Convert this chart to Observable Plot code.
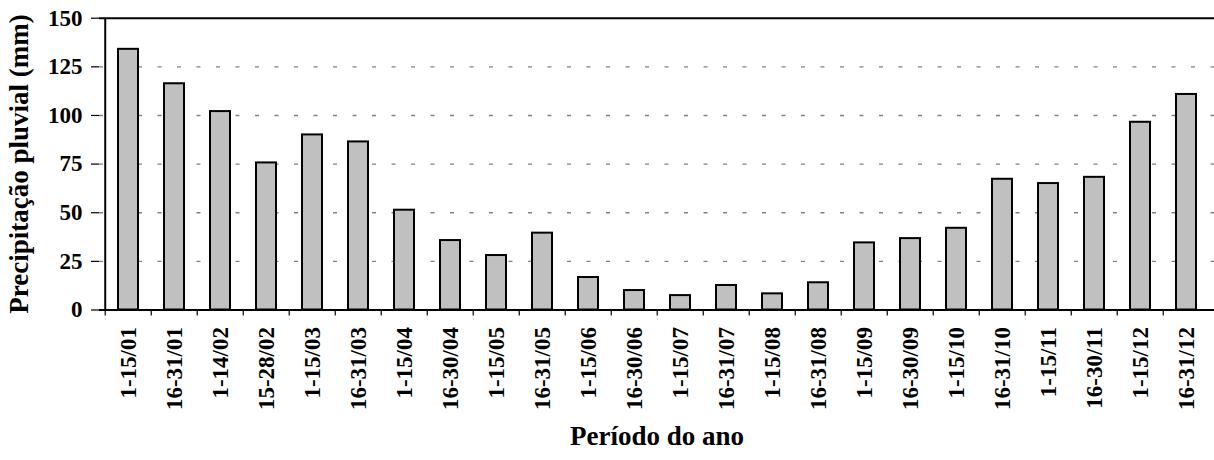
<!DOCTYPE html>
<html>
<head>
<meta charset="utf-8">
<script src="https://cdn.jsdelivr.net/npm/d3@7"></script>
<script src="https://cdn.jsdelivr.net/npm/@observablehq/plot@0.6"></script>
<style>
  html, body { margin: 0; padding: 0; background: white; }
</style>
</head>
<body>
<div id="chart"></div>
<script>
const categories = ["1-15/01","16-31/01","1-14/02","15-28/02","1-15/03","16-31/03","1-15/04","16-30/04","1-15/05","16-31/05","1-15/06","16-30/06","1-15/07","16-31/07","1-15/08","16-31/08","1-15/09","16-30/09","1-15/10","16-31/10","1-15/11","16-30/11","1-15/12","16-31/12"];
const values = [134, 116.3, 102, 75.6, 90, 86.4, 51.3, 35.7, 28, 39.5, 16.7, 10, 7.4, 12.6, 8.3, 14, 34.5, 36.7, 42, 67.2, 65, 68.2, 96.5, 110.8];
const yTicks = [0, 25, 50, 75, 100, 125, 150];
const gridTicks = [25, 50, 75, 100, 125];
const yTitle = "Precipitação pluvial (mm)";
const xTitle = "Período do ano";

const data = categories.map((c, i) => ({cat: c, val: values[i]}));

const FONT = "Liberation Serif";
const xRange = [99, 1215.5];
const step = (xRange[1] - xRange[0]) / categories.length;

const chart = Plot.plot({
  width: 1214,
  height: 460,
  marginLeft: 99,
  marginRight: 0,
  marginTop: 17.7,
  marginBottom: 150.5,
  style: "background: white; color: black; overflow: visible; font-family: 'Liberation Serif', serif; font-weight: bold;",
  x: {domain: categories, range: xRange, paddingInner: 0.57, paddingOuter: 0.285},
  y: {domain: [0, 150], range: [309.5, 17.7]},
  marks: [
    Plot.ruleY(gridTicks, {stroke: "#808080", strokeWidth: 1.4, strokeDasharray: "4,15.5"}),
    Plot.barY(data, {x: "cat", y: "val", fill: "#c0c0c0", stroke: "black", strokeWidth: 2}),
    Plot.ruleX(categories, {x: d => d, y1: 0, y2: 0, insetBottom: -6, dx: -step / 2, stroke: "black", strokeWidth: 1.2}),
    Plot.ruleX([categories[0]], {x: d => d, y1: 0, y2: 150, dx: -step / 2, stroke: "black", strokeWidth: 2}),
    Plot.ruleY([0, 150], {stroke: "black", strokeWidth: 2}),
    Plot.axisY({ticks: yTicks, tickSize: 8, tickPadding: 9, fontSize: 23, fontFamily: FONT, fontWeight: "bold", label: null, stroke: "black", strokeWidth: 1.2}),
    Plot.axisX({tickSize: 0, tickPadding: 17, tickRotate: -90, fontSize: 23, fontFamily: FONT, fontWeight: "bold", label: null}),
    Plot.text([yTitle], {frameAnchor: "left", textAnchor: "middle", rotate: -90, dx: -80, fontSize: 27, fontFamily: FONT, fontWeight: "bold"}),
    Plot.text([xTitle], {frameAnchor: "bottom", textAnchor: "middle", dy: 134.5, fontSize: 27, fontFamily: FONT, fontWeight: "bold"})
  ]
});
d3.select(chart).selectAll("text, tspan").style("font-family", "'Liberation Serif', serif").style("font-weight", "bold");
document.getElementById("chart").appendChild(chart);
</script>
</body>
</html>
